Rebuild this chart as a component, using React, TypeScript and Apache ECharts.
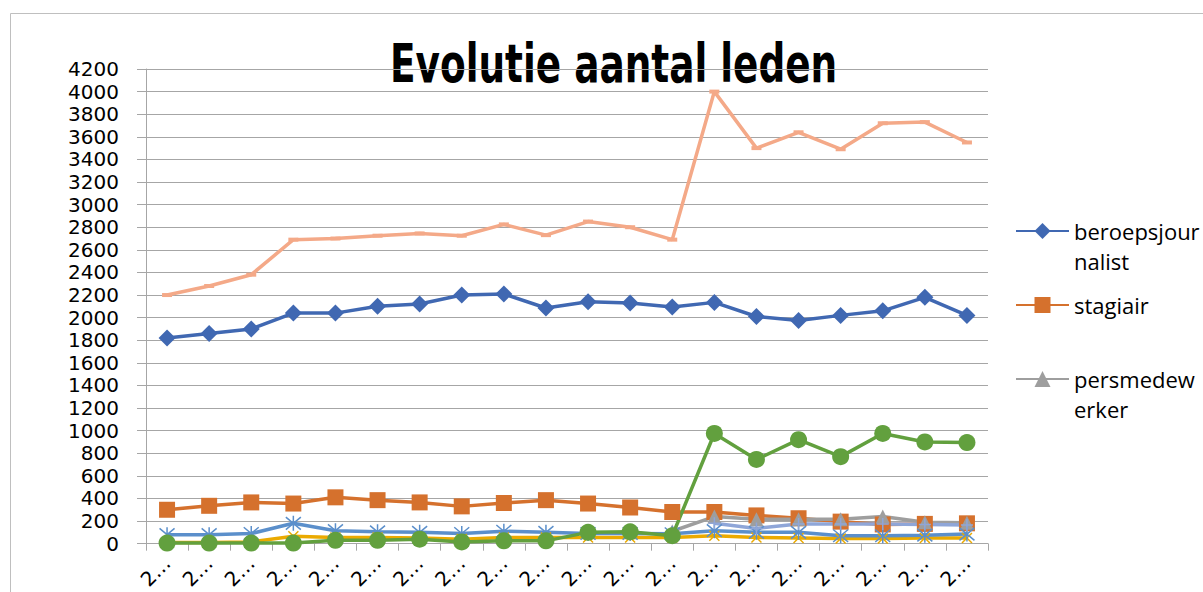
import React, { useEffect, useRef } from 'react';
import * as echarts from 'echarts';

const categories = ['2000','2001','2002','2003','2004','2005','2006','2007','2008','2009','2010','2011','2012','2013','2014','2015','2016','2017','2018','2019'];
const yTicks = { min: 0, max: 4200, interval: 200 };
const titleText = 'Evolutie aantal leden';

const beroepsjournalist = [1820,1860,1900,2040,2040,2100,2120,2200,2210,2085,2140,2130,2095,2135,2010,1975,2020,2060,2180,2020];
const stagiair = [300,335,365,355,410,385,365,330,360,385,355,320,280,280,250,225,195,170,175,180];
const persmedewerker = [null,null,null,null,null,null,null,null,null,null,null,null,110,240,215,215,215,240,190,185];
const reeks4 = [10,10,15,65,55,55,50,40,55,55,55,55,55,70,55,50,45,45,50,50];
const reeks5 = [80,80,90,180,115,105,100,90,110,100,90,90,88,115,100,100,70,70,75,85];
const reeks6 = [5,5,5,5,30,30,40,15,25,25,100,105,70,975,745,920,770,975,900,895];
const reeks7 = [null,null,null,null,null,null,null,null,null,null,null,null,null,180,135,175,175,175,170,165];
const totaal = [2200,2280,2380,2690,2700,2725,2745,2725,2825,2730,2850,2800,2690,4000,3500,3640,3490,3720,3730,3550];

const legendNames = ['beroepsjournalist', 'stagiair', 'persmedewerker'];
const legendLabels: Record<string, string> = {
  beroepsjournalist: ' \nberoepsjour\nnalist',
  stagiair: 'stagiair',
  persmedewerker: ' \npersmedew\nerker',
};

const STAR = 'path://M0,0L10,10M10,0L0,10M5,-1L5,11';
const XMARK = 'path://M0,0L10,10M10,0L0,10';
const PLUS = 'path://M5,0L5,10M0,5L10,5';

function mk(name: string, data: (number | null)[], color: string, symbol: string, size: number | number[], stroke = false) {
  return {
    name,
    type: 'line',
    data,
    symbol,
    symbolSize: size,
    showAllSymbol: true,
    lineStyle: { color, width: 3.5 },
    itemStyle: stroke
      ? { color: color, borderColor: color, borderWidth: 1.5 }
      : { color, borderColor: color, borderWidth: 0 },
    emphasis: { disabled: true },
  };
}

export default function App() {
  const ref = useRef<HTMLDivElement>(null);
  useEffect(() => {
    const chart = echarts.init(ref.current!, null, { renderer: 'svg' });
    const option = {
      animation: false,
      backgroundColor: '#ffffff',
      graphic: [
        {
          type: 'rect',
          shape: { x: 10.5, y: 13.5, width: 1400, height: 800 },
          style: { fill: 'none', stroke: '#BFBFBF', lineWidth: 1 },
          silent: true,
          z: -10,
        },
        {
          type: 'text',
          x: 390,
          y: 36,
          scaleX: 0.77,
          silent: true,
          z: -5,
          style: {
            text: titleText,
            fontFamily: "'DejaVu Sans Condensed', 'DejaVu Sans', sans-serif",
            fontWeight: 'bold',
            fontSize: 54,
            fill: '#000000',
            textVerticalAlign: 'top',
          },
        },
      ],
      legend: {
        data: legendNames,
        orient: 'vertical',
        left: 1015,
        top: 186,
        padding: 0,
        itemGap: 14,
        itemWidth: 53,
        itemHeight: 20,
        formatter: (n: string) => legendLabels[n] ?? n,
        textStyle: {
          fontFamily: "'Open Sans', 'Noto Sans', sans-serif",
          fontSize: 22,
          lineHeight: 30,
          color: '#000000',
        },
      },
      grid: { left: 146, top: 69, right: 215, bottom: 44, containLabel: false },
      xAxis: {
        type: 'category',
        data: categories,
        boundaryGap: true,
        axisLine: { show: true, lineStyle: { color: '#A6A6A6', width: 1 } },
        axisTick: { show: true, alignWithLabel: false, length: 7, lineStyle: { color: '#A6A6A6' } },
        axisLabel: {
          interval: 0,
          rotate: 45,
          margin: 16,
          formatter: () => '2…',
          fontFamily: "'DejaVu Sans', sans-serif",
          fontSize: 20,
          color: '#000000',
        },
        splitLine: { show: false },
      },
      yAxis: {
        type: 'value',
        min: yTicks.min,
        max: yTicks.max,
        interval: yTicks.interval,
        axisLine: { show: true, lineStyle: { color: '#A6A6A6', width: 1 } },
        axisTick: { show: true, length: 9, lineStyle: { color: '#A6A6A6' } },
        axisLabel: {
          margin: 27,
          formatter: (v: number) => String(v),
          fontFamily: "'DejaVu Sans', sans-serif",
          fontSize: 20,
          color: '#000000',
        },
        splitLine: { show: true, lineStyle: { color: '#A6A6A6', width: 1 } },
      },
      series: [
        mk('beroepsjournalist', beroepsjournalist, '#4068B2', 'diamond', 17),
        mk('stagiair', stagiair, '#D5712D', 'rect', 16),
        mk('persmedewerker', persmedewerker, '#9E9E9E', 'triangle', 14),
        mk('reeks 4', reeks4, '#EBAA00', XMARK, 10, true),
        mk('reeks 5', reeks5, '#5B8FCB', STAR, 15, true),
        mk('reeks 6', reeks6, '#62A03E', 'circle', 17),
        mk('reeks 7', reeks7, '#8FA6D8', PLUS, 12, true),
        mk('totaal', totaal, '#F4A988', 'rect', [10, 4]),
      ],
    };
    chart.setOption(option as any);
    return () => chart.dispose();
  }, []);
  return (
    <div
      ref={ref}
      style={{ position: 'fixed', left: 0, top: 0, width: 1203, height: 592, overflow: 'hidden', background: '#fff' }}
    />
  );
}
